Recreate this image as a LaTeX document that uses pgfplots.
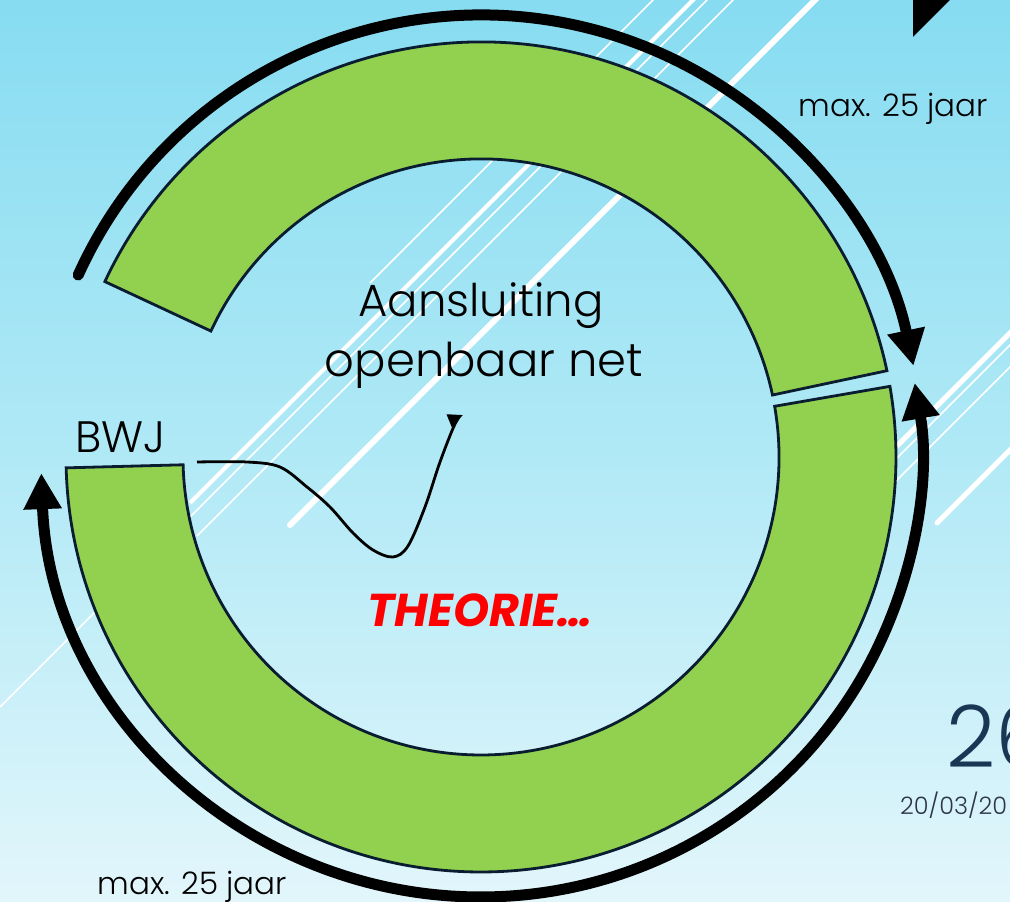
\documentclass[border=0pt]{standalone}
\usepackage{pgfplots}
\pgfplotsset{compat=1.18}
\usetikzlibrary{arrows.meta}
\usepackage{fontspec}
\setmainfont{Poppins}
\IfFontExistsTF{Poppins Light}{\newfontfamily\lightfont{Poppins Light}}{\newfontfamily\lightfont{Poppins}}
\definecolor{bgtop}{RGB}{135,220,241}
\definecolor{bgmid}{RGB}{176,233,246}
\definecolor{bgbot}{RGB}{226,246,251}
\definecolor{ringgreen}{RGB}{146,208,80}
\definecolor{ringedge}{RGB}{10,28,48}
\definecolor{numblue}{RGB}{25,55,85}
\definecolor{dategray}{RGB}{45,55,72}
\begin{document}
\begin{tikzpicture}
\useasboundingbox (0,0) rectangle (1010pt,902pt);
\clip (0,0) rectangle (1010pt,902pt);
\begin{axis}[x=1pt,y=1pt,xmin=0,xmax=1010,ymin=0,ymax=902,hide axis,scale only axis,
  clip=false,disabledatascaling,anchor=south west,at={(0,0)}]
% background
\fill[top color=bgtop, bottom color=bgbot, middle color=bgmid] (axis cs:0,0) rectangle (axis cs:1010,902);
% white diagonal lines
\addplot[white, line width=1.5pt] coordinates {(370,619) (670,919)};
\addplot[white, line width=4pt] coordinates {(190,399) (710,919)};
\addplot[white, line width=1.5pt] coordinates {(0,195) (724,919)};
\addplot[white, line width=1.5pt] coordinates {(197,366) (750,919)};
\addplot[white, line width=6pt, line cap=round] coordinates {(290,377) (832,919)};
\addplot[white, line width=5pt] coordinates {(860,419) (1030,589)};
\addplot[white, line width=1.5pt] coordinates {(860,407) (1030,577)};
\addplot[white, line width=1.5pt] coordinates {(860,385) (1030,555)};
\addplot[white, line width=5pt, line cap=round] coordinates {(937,379) (1030,472)};
% top-right triangle
\addplot[fill=black, draw=none] coordinates {(913,902) (950,902) (913,865)} -- cycle;
% ring segments
\filldraw[fill=ringgreen, draw=ringedge, line width=2.8pt]
  (axis cs:481,445) ++(12:415pt) arc[start angle=12,end angle=155,radius=415pt]
  -- ++(335:117pt) arc[start angle=155,end angle=12,radius=298pt] -- cycle;
\filldraw[fill=ringgreen, draw=ringedge, line width=2.8pt]
  (axis cs:481,445) ++(181.5:415pt) arc[start angle=181.5,end angle=369.8,radius=415pt]
  -- ++(189.8:117pt) arc[start angle=369.8,end angle=181.5,radius=298pt] -- cycle;
% black arrows
\draw[line width=11pt, line cap=round, -{Triangle[width=36pt,length=36pt]}]
  (axis cs:481,445) ++(155.7:442pt) arc[start angle=155.7,end angle=11.9,radius=442pt];
\draw[line width=11pt, {Triangle[width=36pt,length=36pt]}-{Triangle[width=36pt,length=36pt]}]
  (axis cs:481,445) ++(182.1:440pt) arc[start angle=182.1,end angle=369.7,radius=440pt];
% curved arrow
\addplot[black, line width=2.8pt, smooth, tension=0.55, -{Triangle[length=15pt,width=13pt]}] coordinates {
  (197,440) (247,440) (280,435) (307,415) (330,395) (353,369) (373,352) (393,345)
  (408,356) (425,395) (440,440) (455,478) (463,487)};
% texts
\node[anchor=base, font=\lightfont\fontsize{45}{52}\selectfont] at (axis cs:481,585) {Aansluiting};
\node[anchor=base, font=\lightfont\fontsize{46.5}{52}\selectfont] at (axis cs:484,525) {openbaar net};
\node[anchor=base west, font=\lightfont\fontsize{44}{52}\selectfont] at (axis cs:72,449) {BWJ};
\node[anchor=base, text=red, font=\fontsize{46}{54}\selectfont\bfseries\itshape] at (axis cs:480,275) {THEORIE…};
\node[anchor=base west, font=\lightfont\fontsize{31}{36}\selectfont] at (axis cs:795,785) {max. 25 jaar};
\node[anchor=base west, font=\lightfont\fontsize{31}{36}\selectfont] at (axis cs:94,7) {max. 25 jaar};
\node[anchor=base west, inner sep=0pt, text=numblue, font=\lightfont\fontsize{86}{96}\selectfont] at (axis cs:946,134) {26};
\node[anchor=base west, inner sep=0pt, text=dategray, font=\lightfont\fontsize{24}{28}\selectfont] at (axis cs:900,87) {20/03/20};
\end{axis}
\end{tikzpicture}
\end{document}
